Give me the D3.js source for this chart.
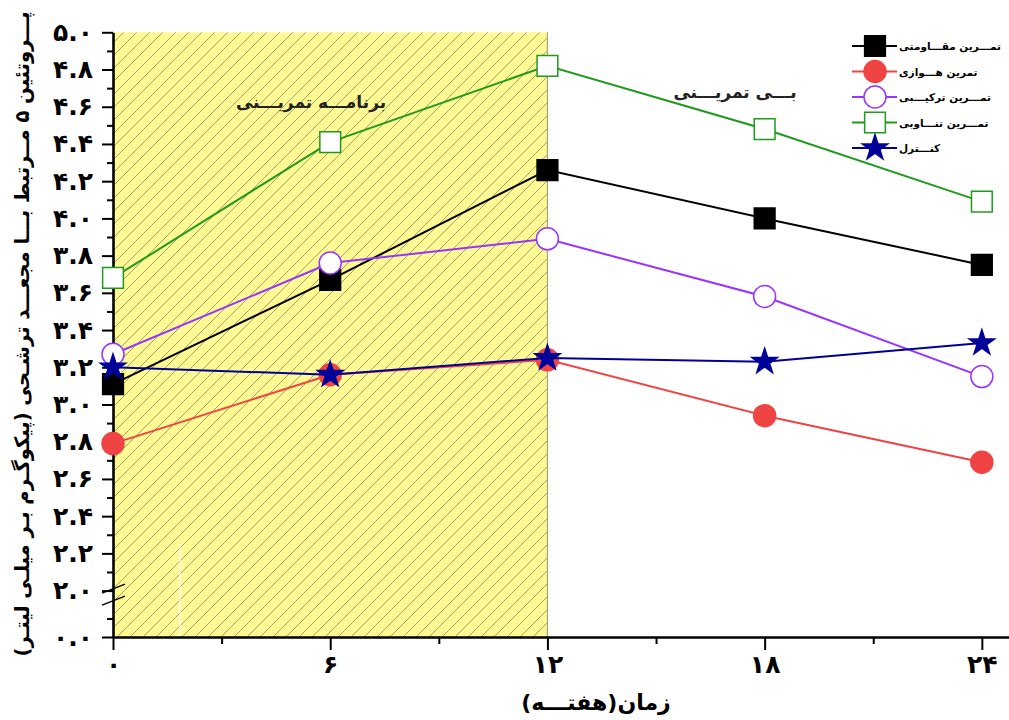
<!DOCTYPE html>
<html><head><meta charset="utf-8">
<script src="https://cdn.jsdelivr.net/npm/d3@7"></script>
<style>body{margin:0;background:#fff} svg text{font-family:"DejaVu Sans",sans-serif}</style>
</head><body><svg id="c" width="1009" height="720"></svg>
<script>
// ---- data ----
const weeks = [0, 6, 12, 18, 24];
const resistance = [3.11, 3.67, 4.26, 4.00, 3.75];
const aerobic    = [2.79, 3.16, 3.24, 2.94, 2.69];
const combined   = [3.27, 3.76, 3.89, 3.58, 3.15];
const interval   = [3.68, 4.41, 4.82, 4.48, 4.09];
const control    = [3.20, 3.16, 3.25, 3.23, 3.33];
const seriesNames = ["تمـــرین مقـــاومتی", "تمرین هـــوازی", "تمـــرین ترکیـــبی", "تمـــرین تنـــاوبی", "کنـــترل"];
const xTicks = [0, 6, 12, 18, 24];
const xMinorTicks = [3, 9, 15, 21];
const yTicks = [0, 2.0, 2.2, 2.4, 2.6, 2.8, 3.0, 3.2, 3.4, 3.6, 3.8, 4.0, 4.2, 4.4, 4.6, 4.8, 5.0];
const yMinorTicks = [0.1, 2.1, 2.3, 2.5, 2.7, 2.9, 3.1, 3.3, 3.5, 3.7, 3.9, 4.1, 4.3, 4.5, 4.7, 4.9];
const trainingPeriod = [0, 12];
const yTitle = "پـــروتئین ۵ مــرتبط بـــا مجعـــد ترشـحی (پیکوگـرم بـر میلـی لیتـر)";
const xTitle = "زمان(هفتـــه)";
const trainingLabel = "برنامـــه تمریـــنی";
const detrainingLabel = "بـــی تمریـــنی";

const faDigits = s => String(s).replace(/\d/g, d => "۰۱۲۳۴۵۶۷۸۹"[d]);

const svg = d3.select("#c");
const x = d3.scaleLinear().domain([0, 24.75]).range([113, 1009]);
const y = d3.scaleLinear().domain([0, 0.25, 2.0, 5.0]).range([637, 590.8, 590.6, 32.3]);

// hatch pattern
const defs = svg.append("defs");
const pat = defs.append("pattern").attr("id", "hatch").attr("patternUnits", "userSpaceOnUse")
  .attr("width", 13).attr("height", 13);
pat.append("rect").attr("width", 13).attr("height", 13).attr("fill", "#fffa93");
pat.append("path").attr("d", "M0,13 L13,0 M-3,3 L3,-3 M10,16 L16,10")
  .attr("stroke", "#8a8a60").attr("stroke-width", 0.8);

// training region
svg.append("rect")
  .attr("x", x(trainingPeriod[0])).attr("y", y(5.0))
  .attr("width", x(trainingPeriod[1]) - x(trainingPeriod[0]))
  .attr("height", y(0) - y(5.0))
  .attr("fill", "url(#hatch)");
svg.append("line").attr("x1", x(trainingPeriod[1])).attr("x2", x(trainingPeriod[1]))
  .attr("y1", y(5.0)).attr("y2", y(0)).attr("stroke", "#a8a47a").attr("stroke-width", 1.2);
svg.append("line").attr("x1", 180).attr("x2", 180).attr("y1", 545).attr("y2", y(0))
  .attr("stroke", "#fff").attr("stroke-width", 1.2);

// region labels
svg.append("text").attr("x", 311).attr("y", 108).attr("text-anchor", "middle")
  .attr("direction", "rtl").attr("font-size", 17).attr("font-weight", "bold").attr("fill", "#222").text(trainingLabel);
svg.append("text").attr("x", 735).attr("y", 98).attr("text-anchor", "middle")
  .attr("direction", "rtl").attr("font-size", 17).attr("font-weight", "bold").attr("fill", "#222").text(detrainingLabel);

// axes
svg.append("g").attr("transform", `translate(${x(0)},0)`)
  .call(d3.axisLeft(y).tickValues(yTicks).tickSize(11).tickSizeOuter(0).tickPadding(9)
    .tickFormat(d => faDigits(d3.format(".1f")(d))));
svg.append("g").attr("transform", `translate(${x(0)},0)`)
  .call(d3.axisLeft(y).tickValues(yMinorTicks).tickSize(6).tickSizeOuter(0).tickFormat(""))
  .call(g => g.select(".domain").remove());
svg.append("g").attr("transform", `translate(0,${y(0)})`)
  .call(d3.axisBottom(x).tickValues(xTicks).tickSize(13).tickSizeOuter(0).tickPadding(5)
    .tickFormat(d => faDigits(d)));
svg.append("g").attr("transform", `translate(0,${y(0)})`)
  .call(d3.axisBottom(x).tickValues(xMinorTicks).tickSize(7).tickSizeOuter(0).tickFormat(""))
  .call(g => g.select(".domain").remove());
svg.selectAll(".domain").attr("stroke", "#000").attr("stroke-width", 2.6);
svg.selectAll(".tick line").attr("stroke", "#000").attr("stroke-width", 2);
svg.selectAll(".tick text").attr("font-size", 25).attr("font-weight", "bold")
  .attr("font-family", "DejaVu Sans").attr("fill", "#000");

// axis break marks
[-2, 10].forEach(o => {
  svg.append("line").attr("x1", x(0) - 11).attr("x2", x(0) + 12)
    .attr("y1", y(2.0) + o + 4.5).attr("y2", y(2.0) + o - 4.5)
    .attr("stroke", "#000").attr("stroke-width", 1.3);
});

// titles
svg.append("text").attr("transform", `translate(29,${334}) rotate(-90)`)
  .attr("text-anchor", "middle").attr("direction", "rtl")
  .attr("font-size", 20).attr("font-weight", "bold")
  .attr("textLength", 645).attr("lengthAdjust", "spacingAndGlyphs").text(yTitle);
svg.append("text").attr("x", 596).attr("y", 710).attr("text-anchor", "middle")
  .attr("direction", "rtl").attr("font-size", 22).attr("font-weight", "bold").text(xTitle);

// series
const series = [
  {name: seriesNames[0], values: resistance, color: "#000000", marker: "square", fill: "#000000"},
  {name: seriesNames[1], values: aerobic, color: "#f04444", marker: "circle", fill: "#f04444"},
  {name: seriesNames[2], values: combined, color: "#9933ff", marker: "circle", fill: "#ffffff"},
  {name: seriesNames[3], values: interval, color: "#1f9a1f", marker: "square", fill: "#ffffff"},
  {name: seriesNames[4], values: control, color: "#000099", marker: "star", fill: "#000099"}
];
const symbolFor = m => m === "square" ? d3.symbol(d3.symbolSquare, 430)
  : m === "circle" ? d3.symbol(d3.symbolCircle, 380)
  : d3.symbol(d3.symbolStar, 200);
const line = d3.line().x((d, i) => x(weeks[i])).y(d => y(d));
series.forEach(s => {
  const g = svg.append("g");
  g.append("path").attr("d", line(s.values)).attr("fill", "none")
    .attr("stroke", s.color).attr("stroke-width", 2);
  g.selectAll("path.m").data(s.values).join("path").attr("class", "m")
    .attr("transform", (d, i) => `translate(${x(weeks[i])},${y(d)})`)
    .attr("d", symbolFor(s.marker)())
    .attr("fill", s.fill).attr("stroke", s.color).attr("stroke-width", 1.5);
});

// legend
const lg = svg.append("g");
series.forEach((s, i) => {
  const yy = 46 + i * 25.5;
  lg.append("line").attr("x1", 852).attr("x2", 897).attr("y1", yy).attr("y2", yy)
    .attr("stroke", s.color).attr("stroke-width", 2);
  lg.append("path").attr("transform", `translate(875,${yy})`)
    .attr("d", symbolFor(s.marker)()).attr("fill", s.fill).attr("stroke", s.color).attr("stroke-width", 1.5);
  lg.append("text").attr("x", 899).attr("y", yy + 4).attr("text-anchor", "end")
    .attr("direction", "rtl").attr("font-size", 10.5).attr("font-weight", "bold").text(s.name);
});
</script></body></html>
